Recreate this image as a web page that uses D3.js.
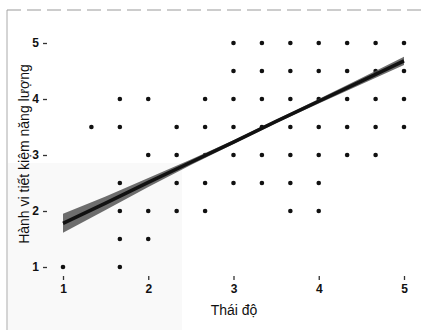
<!DOCTYPE html>
<html>
<head>
<meta charset="utf-8">
<script src="https://cdn.jsdelivr.net/npm/d3@7"></script>
<style>
  body { margin: 0; background: #fff; }
  text { font-family: "Liberation Sans", Arial, sans-serif; fill: #111; }
</style>
</head>
<body>
<svg id="canvas" width="433" height="334"></svg>
<script>
// observed (attitude, behaviour) pairs
let pointX = [1, 1.667,
              1.667, 2,
              1.667, 2, 2.333, 2.667, 3.667, 4,
              1.667, 2.333, 2.667, 3, 3.333, 3.667, 4,
              2, 2.333, 2.667, 3, 3.333, 3.667, 4, 4.333, 4.667,
              1.333, 1.667, 2.333, 2.667, 3, 3.333, 3.667, 4, 4.333, 4.667, 5,
              1.667, 2, 2.667, 3, 3.333, 3.667, 4, 4.333, 4.667, 5,
              3, 3.333, 3.667, 4, 4.333, 4.667, 5,
              3, 3.333, 3.667, 4, 4.333, 4.667, 5];
let pointY = [1, 1,
              1.5, 1.5,
              2, 2, 2, 2, 2, 2,
              2.5, 2.5, 2.5, 2.5, 2.5, 2.5, 2.5,
              3, 3, 3, 3, 3, 3, 3, 3, 3,
              3.5, 3.5, 3.5, 3.5, 3.5, 3.5, 3.5, 3.5, 3.5, 3.5, 3.5,
              4, 4, 4, 4, 4, 4, 4, 4, 4, 4,
              4.5, 4.5, 4.5, 4.5, 4.5, 4.5, 4.5,
              5, 5, 5, 5, 5, 5, 5];

// fitted regression line and its confidence band
let fitX = [1, 1.5, 2, 2.5, 3, 3.5, 4, 4.5, 5];
let fitY = [1.78, 2.14, 2.51, 2.87, 3.23, 3.60, 3.96, 4.32, 4.68];
let bandLo = [1.61, 2.02, 2.43, 2.82, 3.195, 3.57, 3.92, 4.265, 4.605];
let bandHi = [1.95, 2.26, 2.59, 2.92, 3.265, 3.63, 4.00, 4.375, 4.755];

let xTicks = [1, 2, 3, 4, 5];
let yTicks = [1, 2, 3, 4, 5];

let canvas = d3.select("#canvas");

let xScale = d3.scaleLinear().domain([1, 5]).range([63, 404]);
let yScale = d3.scaleLinear().domain([1, 5]).range([267, 43]);

// scanned page frame
canvas.append('rect')
    .attr('x', 8).attr('y', 163).attr('width', 174).attr('height', 167)
    .attr('fill', '#f9f9f9')
canvas.append('line')
    .attr('x1', 7).attr('x2', 7).attr('y1', 10).attr('y2', 330)
    .attr('stroke', '#aaa').attr('stroke-width', 1)
canvas.append('line')
    .attr('x1', 7).attr('x2', 426).attr('y1', 10).attr('y2', 10)
    .attr('stroke', '#999').attr('stroke-width', 1.2)
    .attr('stroke-dasharray', '14 6')

// axes: labels + short tick dashes, no axis line
let yAxis = d3.axisLeft(yScale).tickValues(yTicks).tickFormat(d3.format('d')).tickSize(4).tickPadding(4);
canvas.append('g')
    .attr('transform', 'translate(47,0)')
    .call(yAxis)
    .call(g => g.select('.domain').remove())
    .call(g => g.selectAll('line').attr('stroke', '#333').attr('stroke-width', 1.3))
    .call(g => g.selectAll('text').style('font-size', '12px').style('font-weight', 'bold').attr('fill', '#1a1a1a'))

let xAxis = d3.axisBottom(xScale).tickValues(xTicks).tickFormat(d3.format('d')).tickSize(4).tickPadding(4);
canvas.append('g')
    .attr('transform', 'translate(0,276)')
    .call(xAxis)
    .call(g => g.select('.domain').remove())
    .call(g => g.selectAll('line').attr('stroke', '#333').attr('stroke-width', 1.3))
    .call(g => g.selectAll('text').style('font-size', '12px').style('font-weight', 'bold').attr('fill', '#1a1a1a'))

canvas.append('text')
    .attr('x', 234).attr('y', 315)
    .attr('text-anchor', 'middle')
    .style('font-size', '14px')
    .text('Thái độ')

canvas.append('text')
    .attr('transform', 'translate(29,154) rotate(-90)')
    .attr('text-anchor', 'middle')
    .style('font-size', '14px')
    .text('Hành vi tiết kiệm năng lượng')

// points
canvas.selectAll('circle')
    .data(pointX)
    .enter()
    .append('circle')
    .attr('cx', d => xScale(d))
    .attr('cy', (d, i) => yScale(pointY[i]))
    .attr('r', 2.3)
    .attr('fill', '#111')

// confidence band
let band = d3.area()
    .x((d, i) => xScale(d))
    .y0((d, i) => yScale(bandLo[i]))
    .y1((d, i) => yScale(bandHi[i]));
canvas.append('path')
    .attr('d', band(fitX))
    .attr('fill', '#555')
    .attr('opacity', 0.85)

// regression line
let line = d3.line()
    .x(d => xScale(d))
    .y((d, i) => yScale(fitY[i]));
canvas.append('path')
    .attr('d', line(fitX))
    .attr('fill', 'none')
    .attr('stroke', '#111')
    .attr('stroke-width', 3.5)
</script>
</body>
</html>
